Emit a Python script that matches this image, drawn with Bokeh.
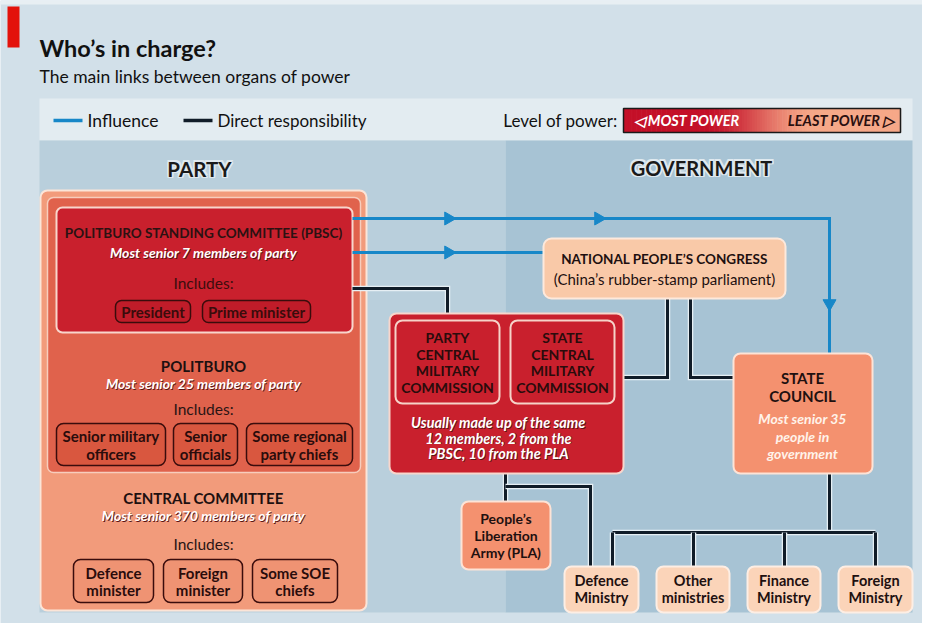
import numpy as np
from bokeh.plotting import figure
from bokeh.models import Range1d
from bokeh.core.properties import value
from bokeh.embed import file_html
from bokeh.resources import INLINE

# ---------------- content ----------------
title = "Who\u2019s in charge?"
subtitle = "The main links between organs of power"
legend_labels = ["Influence", "Direct responsibility"]
power_title = "Level of power:"
power_labels = ["\u25C1 MOST POWER", "LEAST POWER \u25B7"]
section_names = ["PARTY", "GOVERNMENT"]

party_bodies = ["POLITBURO STANDING COMMITTEE (PBSC)", "POLITBURO", "CENTRAL COMMITTEE"]
party_notes = ["Most senior 7 members of party", "Most senior 25 members of party",
               "Most senior 370 members of party"]
includes_label = "Includes:"
pbsc_members = [["President"], ["Prime minister"]]
politburo_members = [["Senior military", "officers"], ["Senior", "officials"], ["Some regional", "party chiefs"]]
cc_members = [["Defence", "minister"], ["Foreign", "minister"], ["Some SOE", "chiefs"]]

cmc_names = [["PARTY", "CENTRAL", "MILITARY", "COMMISSION"], ["STATE", "CENTRAL", "MILITARY", "COMMISSION"]]
cmc_note = ["Usually made up of the same", "12 members, 2 from the", "PBSC, 10 from the PLA"]
npc_lines = ["NATIONAL PEOPLE\u2019S CONGRESS", "(China\u2019s rubber-stamp parliament)"]
council_title = ["STATE", "COUNCIL"]
council_note = ["Most senior 35", "people in", "government"]
pla_lines = ["People\u2019s", "Liberation", "Army (PLA)"]
ministries = [["Defence", "Ministry"], ["Other", "ministries"], ["Finance", "Ministry"], ["Foreign", "Ministry"]]

# ---------------- style ----------------
FONT = "Lato"
BG = "#d2e0e9"
STRIP = "#e3ecf1"
PARTY_BG = "#b9cfdc"
GOV_BG = "#a7c3d4"
RED = "#c9202d"
MID = "#e0624c"
SALMON = "#f29b7b"
COUNCIL = "#f4916f"
PEACH = "#f9c9a8"
PEACH2 = "#fbd4b9"
DARK = "#231414"
BLUE = "#1787c8"
NAVY = "#101c28"
HALO = "#e6eff4"

p = figure(width=922, height=623, x_range=Range1d(0, 922), y_range=Range1d(623, 0),
           output_backend="svg", toolbar_location=None, min_border=0,
           x_axis_location=None, y_axis_location=None)
p.grid.visible = False
p.outline_line_color = None
p.background_fill_color = BG
p.border_fill_color = BG


def box(x0, y0, x1, y1, fill, line=None, lw=0, r=0, alpha=1.0):
    p.quad(left=[x0], right=[x1], top=[y0], bottom=[y1], fill_color=fill, fill_alpha=alpha,
           line_color=line, line_width=lw, border_radius=r)


def txt(x, y, s, size, color=DARK, style="normal", align="center", baseline="middle", xo=0, yo=0):
    p.text(x=[x], y=[y], text=[s], text_font=value(FONT), text_font_size=f"{size}px",
           text_font_style=style, text_color=color, text_align=align, text_baseline=baseline,
           x_offset=xo, y_offset=yo)


def halo_txt(x, y, s, size, color, halo, style="bold"):
    for dx, dy in [(-1, 0), (1, 0), (0, -1), (0, 1), (-1, -1), (1, 1), (-1, 1), (1, -1)]:
        txt(x, y, s, size, halo, style, xo=dx * 1.5, yo=dy * 1.5)
    txt(x, y, s, size, color, style)


def note_txt(x, y, s, size=14):
    txt(x, y, s, size, "#5a1515", "bold italic", xo=0.8, yo=0.8)
    txt(x, y, s, size, "white", "bold italic")


def path(xs, ys, color, width, halo=None):
    if halo:
        p.line(xs, ys, line_color=halo, line_width=width + 2.5, line_join="miter")
    p.line(xs, ys, line_color=color, line_width=width, line_join="miter")


# ---------------- header ----------------
box(0, 0, 922, 4, "#e8eff3")
box(7, 6, 19, 47, "#e3120b")
txt(39, 47, title, 23.5, "#111111", "bold", align="left", baseline="alphabetic")
txt(39, 76, subtitle, 17.5, "#111111", align="left", baseline="alphabetic")

# ---------------- panels ----------------
box(39, 98, 912, 140, STRIP)
box(39, 140, 505, 612, PARTY_BG)
box(505, 140, 912, 612, GOV_BG)

# legend
p.line([53, 82], [120, 120], line_color=BLUE, line_width=3.5)
txt(87, 120, legend_labels[0], 17.5, "#111111", align="left")
p.line([183, 212], [120, 120], line_color=NAVY, line_width=3.5)
txt(217, 120, legend_labels[1], 17, "#111111", align="left")
txt(617, 120, power_title, 17, "#111111", align="right")

# power gradient bar
n = 110
edges = np.linspace(623, 900, n + 1)
c0 = np.array([196, 16, 40])
c1 = np.array([246, 168, 136])
cols = []
for i in range(n):
    t = (i + 0.5) / n
    w = np.clip((t - 0.28) / 0.42, 0, 1)
    w = w * w * (3 - 2 * w)
    c = (c0 + (c1 - c0) * w).astype(int)
    cols.append("#%02x%02x%02x" % tuple(c))
p.quad(left=edges[:-1], right=edges[1:] + 0.6, top=108, bottom=132, fill_color=cols, line_color=None)
box(623, 108, 900, 132, None, "#1a1a1a", 1.5)
txt(633, 120, power_labels[0], 14.5, "white", "bold italic", align="left")
txt(894, 120, power_labels[1], 14.5, "#2a1010", "bold italic", align="right")

halo_txt(199, 168, section_names[0], 20.5, "#1a1a1a", "#dfe9ef")
halo_txt(701, 167, section_names[1], 20, "#1a1a1a", "#dfe9ef")

# ---------------- party boxes ----------------
box(40, 190, 366, 610, SALMON, "#fbe5d8", 2, 7)
box(47, 197, 360, 472, MID, "#f7cdbd", 1.5, 6)
box(56, 207, 352, 332, RED, "#f8d6cc", 2, 6)

# PBSC
txt(203, 232, party_bodies[0], 13.5, "#2b1212", "bold")
note_txt(203, 252, party_notes[0])
txt(203, 282, includes_label, 15.5, "#3d0d0d")
for (x0, x1), lab in zip([(115, 190), (202, 310)], pbsc_members):
    box(x0, 300, x1, 322, "#c01c29", "#3a0c0c", 1.5, 6)
    txt((x0 + x1) / 2, 311, lab[0], 15, "#3a0c0c", "bold")

# Politburo
txt(203, 365, party_bodies[1], 15, "#1e1010", "bold")
note_txt(203, 383, party_notes[1])
txt(203, 408, includes_label, 15.5, "#2a1414")
for (x0, x1), lab in zip([(56, 165), (173, 237), (246, 352)], politburo_members):
    box(x0, 423, x1, 465, "#d9573f", "#3a0c0c", 1.5, 7)
    txt((x0 + x1) / 2, 435, lab[0], 15, "#2a0c0c", "bold")
    txt((x0 + x1) / 2, 453, lab[1], 15, "#2a0c0c", "bold")

# Central Committee
txt(203, 497, party_bodies[2], 15, "#1e1010", "bold")
note_txt(203, 515, party_notes[2])
txt(203, 543, includes_label, 15.5, "#2a1414")
for (x0, x1), lab in zip([(73, 153), (163, 242), (252, 337)], cc_members):
    box(x0, 559, x1, 602, "#ef9373", "#3a0c0c", 1.5, 7)
    txt((x0 + x1) / 2, 572, lab[0], 15, "#2a0c0c", "bold")
    txt((x0 + x1) / 2, 589, lab[1], 15, "#2a0c0c", "bold")

# ---------------- connecting lines ----------------
# influence (blue)
path([352, 829, 829], [218, 218, 353], BLUE, 3)
path([352, 543], [252, 252], BLUE, 3)
p.scatter(x=[448, 598, 448], y=[218, 218, 252], marker="triangle", size=13,
          angle=-np.pi / 2, fill_color=BLUE, line_color=BLUE)
p.scatter(x=[829], y=[303], marker="triangle", size=13, angle=np.pi,
          fill_color=BLUE, line_color=BLUE)

# direct responsibility (black)
path([352, 447, 447], [288, 288, 313], NAVY, 3, HALO)
path([667, 667, 623], [298, 377, 377], NAVY, 3, HALO)
path([690, 690, 733], [298, 377, 377], NAVY, 3, HALO)
path([505, 505], [473, 501], NAVY, 3, HALO)
path([505, 590, 590], [486, 486, 566], NAVY, 3, HALO)
path([829, 829], [473, 532], NAVY, 3, HALO)
path([612, 875], [532, 532], NAVY, 3, HALO)
for xd in [612, 693, 784, 875]:
    path([xd, xd], [532, 566], NAVY, 3, HALO)

# ---------------- military commissions ----------------
box(389, 313, 623, 473, RED, "#f8d6cc", 2, 7)
for (x0, x1), lines in zip([(395, 499), (510, 614)], cmc_names):
    box(x0, 320, x1, 403, RED, "#f6d2c8", 2, 7)
    for k, ln in enumerate(lines):
        txt((x0 + x1) / 2, 337 + k * 16.6, ln, 14, "#2a0c0c", "bold")
for k, ln in enumerate(cmc_note):
    note_txt(498, 422 + k * 15.5, ln, 14.5)

# ---------------- government boxes ----------------
box(543, 238, 785, 298, PEACH, "#fde9dc", 2, 8)
txt(664, 258, npc_lines[0], 13.5, "#1e1010", "bold")
txt(664, 278, npc_lines[1], 15, "#1e1010")

box(733, 353, 872, 473, COUNCIL, "#fde3d6", 2, 7)
txt(802, 377, council_title[0], 15, "#1e1010", "bold")
txt(802, 395, council_title[1], 15, "#1e1010", "bold")
for k, ln in enumerate(council_note):
    txt(802, 418 + k * 17.5, ln, 14, "#fff3ea", "bold italic")

box(461, 501, 550, 569, COUNCIL, "#fde3d6", 2, 7)
for k, ln in enumerate(pla_lines):
    txt(505.5, 518 + k * 17, ln, 14, "#1e1010", "bold")

for (x0, x1), lab in zip([(564, 638), (656, 729), (747, 820), (838, 912)], ministries):
    box(x0, 566, x1, 612, PEACH2, "#fdeee4", 2, 7)
    txt((x0 + x1) / 2, 580, lab[0], 14.5, "#1e1010", "bold")
    txt((x0 + x1) / 2, 597, lab[1], 14.5, "#1e1010", "bold")

open("out.html", "w").write(file_html(p, INLINE))
